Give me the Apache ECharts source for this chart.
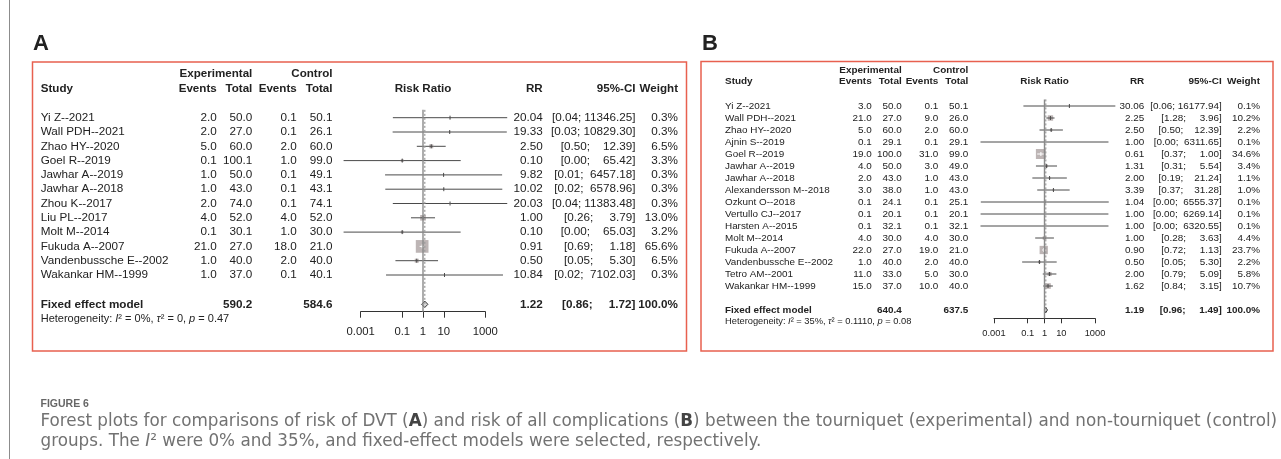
<!DOCTYPE html>
<html>
<head>
<meta charset="utf-8">
<script src="https://cdn.jsdelivr.net/npm/echarts@6/dist/echarts.min.js"></script>
<style>
html, body { margin: 0; padding: 0; background: #fff; }
#main { width: 1281px; height: 459px; }
</style>
</head>
<body>
<div id="main"></div>
<script>
// ---- panel A: risk of DVT ----
var studiesA = ['Yi Z--2021', 'Wall PDH--2021', 'Zhao HY--2020', 'Goel R--2019', 'Jawhar A--2019', 'Jawhar A--2018',
    'Zhou K--2017', 'Liu PL--2017', 'Molt M--2014', 'Fukuda A--2007', 'Vandenbussche E--2002', 'Wakankar HM--1999'];
var expEventsA = [2.0, 2.0, 5.0, 0.1, 1.0, 1.0, 2.0, 4.0, 0.1, 21.0, 1.0, 1.0];
var expTotalA = [50.0, 27.0, 60.0, 100.1, 50.0, 43.0, 74.0, 52.0, 30.1, 27.0, 40.0, 37.0];
var ctlEventsA = [0.1, 0.1, 2.0, 1.0, 0.1, 0.1, 0.1, 4.0, 1.0, 18.0, 2.0, 0.1];
var ctlTotalA = [50.1, 26.1, 60.0, 99.0, 49.1, 43.1, 74.1, 52.0, 30.0, 21.0, 40.0, 40.1];
var rrA = [20.04, 19.33, 2.50, 0.10, 9.82, 10.02, 20.03, 1.00, 0.10, 0.91, 0.50, 10.84];
var loA = [0.0354, 0.0345, 0.504, 0.00015, 0.0149, 0.0153, 0.0352, 0.264, 0.00015, 0.69, 0.047, 0.0166];
var hiA = [11346.25, 10829.30, 12.39, 65.42, 6457.18, 6578.96, 11383.48, 3.79, 65.03, 1.18, 5.30, 7102.03];
var weightA = [0.3, 0.3, 6.5, 3.3, 0.3, 0.3, 0.3, 13.0, 3.2, 65.6, 6.5, 0.3];
// exp total, control total, RR, lower, upper, weight
var fixedA = [590.2, 584.6, 1.22, 0.86, 1.72, 100.0];
// I2, tau2, p
var hetA = ['0%', '0', '0.47'];

// ---- panel B: risk of all complications ----
var studiesB = ['Yi Z--2021', 'Wall PDH--2021', 'Zhao HY--2020', 'Ajnin S--2019', 'Goel R--2019', 'Jawhar A--2019',
    'Jawhar A--2018', 'Alexandersson M--2018', 'Ozkunt O--2018', 'Vertullo CJ--2017', 'Harsten A--2015', 'Molt M--2014',
    'Fukuda A--2007', 'Vandenbussche E--2002', 'Tetro AM--2001', 'Wakankar HM--1999'];
var expEventsB = [3.0, 21.0, 5.0, 0.1, 19.0, 4.0, 2.0, 3.0, 0.1, 0.1, 0.1, 4.0, 22.0, 1.0, 11.0, 15.0];
var expTotalB = [50.0, 27.0, 60.0, 29.1, 100.0, 50.0, 43.0, 38.0, 24.1, 20.1, 32.1, 30.0, 27.0, 40.0, 33.0, 37.0];
var ctlEventsB = [0.1, 9.0, 2.0, 0.1, 31.0, 3.0, 1.0, 1.0, 0.1, 0.1, 0.1, 4.0, 19.0, 2.0, 5.0, 10.0];
var ctlTotalB = [50.1, 26.0, 60.0, 29.1, 99.0, 49.0, 43.0, 43.0, 25.1, 20.1, 32.1, 30.0, 21.0, 40.0, 30.0, 40.0];
var rrB = [30.06, 2.25, 2.50, 1.00, 0.61, 1.31, 2.00, 3.39, 1.04, 1.00, 1.00, 1.00, 0.90, 0.50, 2.00, 1.62];
var loB = [0.0559, 1.28, 0.504, 0.000158, 0.37, 0.31, 0.19, 0.37, 0.000165, 0.00016, 0.000158, 0.28, 0.72, 0.047, 0.79, 0.84];
var hiB = [16177.94, 3.96, 12.39, 6311.65, 1.00, 5.54, 21.24, 31.28, 6555.37, 6269.14, 6320.55, 3.63, 1.13, 5.30, 5.09, 3.15];
var weightB = [0.1, 10.2, 2.2, 0.1, 34.6, 3.4, 1.1, 1.0, 0.1, 0.1, 0.1, 4.4, 23.7, 2.2, 5.8, 10.7];
var fixedB = [640.4, 637.5, 1.19, 0.96, 1.49, 100.0];
var hetB = ['35%', '0.1110', '0.08'];

// axis ticks (shared)
var tickValues = [0.001, 0.1, 1, 10, 1000];
var tickLabels = ['0.001', '0.1', '1', '10', '1000'];

var captionTitle = 'FIGURE 6';
var captionLine1 = 'Forest plots for comparisons of risk of DVT (A) and risk of all complications (B) between the tourniquet (experimental) and non-tourniquet (control)';

var FONT = '"Liberation Sans", Arial, Helvetica, sans-serif';
var TXT = '#222';
var RED = '#e8604f';

var layoutA = {
    font: 11.7, hdr: 11.6, axisFont: 11.3, het: 11.0, rowTop: 117.7, rowStep: 14.3, fixedRow: 13.05,
    axisLeft: 360.7, axisRight: 485.3, axisY: 311.7, tickLen: 6, labelMargin: 15,
    colStudy: 40.7, colExpEv: 216.7, colExpTot: 252.3, colCtlEv: 296.7, colCtlTot: 332.5,
    colRR: 542.7, colCI: 635.5, colW: 678, hdr1: 74, hdr2: 89, hetY: 319, sqK: 1.568, dia: 3.2
};
var layoutB = {
    font: 9.9, hdr: 9.95, axisFont: 9.3, het: 9.3, rowTop: 106, rowStep: 12.0, fixedRow: 17,
    axisLeft: 994, axisRight: 1095, axisY: 318.3, tickLen: 5, labelMargin: 11,
    colStudy: 725, colExpEv: 871.7, colExpTot: 901.7, colCtlEv: 938.3, colCtlTot: 968.3,
    colRR: 1144.3, colCI: 1221.7, colW: 1260, hdr1: 70, hdr2: 81.7, hetY: 321.7, sqK: 1.70, dia: 2.8
};

function pad(s, n) {
    while (s.length < n) { s = ' ' + s; }
    return s;
}
function fmtCI(lo, hi) {
    return '[' + lo.toFixed(2) + '; ' + pad(hi.toFixed(2), 8) + ']';
}
function font(size, bold) {
    return (bold ? 'bold ' : '') + size + 'px ' + FONT;
}
function txt(x, y, s, f, align) {
    return {
        type: 'text', x: x, y: y, z2: 10,
        style: { text: s, font: f, fill: TXT, align: align, verticalAlign: 'middle',
            textAlign: align, textVerticalAlign: 'middle' }
    };
}

var option = {
    animation: false,
    backgroundColor: '#fff',
    grid: [], xAxis: [], yAxis: [], series: [],
    graphic: { elements: [] }
};

function addPanel(k, P, L) {
    var yMax = (L.axisY - L.rowTop) / L.rowStep;
    option.grid.push({
        left: L.axisLeft, width: L.axisRight - L.axisLeft,
        top: L.rowTop - L.rowStep, height: L.axisY - (L.rowTop - L.rowStep)
    });
    option.xAxis.push({
        type: 'log', logBase: 10, gridIndex: k, min: 0.001, max: 1000, position: 'bottom',
        axisLine: { show: true, onZero: false, lineStyle: { color: '#333', width: 1 } },
        axisTick: { show: true, inside: false, length: L.tickLen, customValues: tickValues,
            lineStyle: { color: '#333', width: 1 } },
        axisLabel: {
            customValues: tickValues, margin: L.labelMargin, color: TXT,
            fontSize: L.axisFont, fontFamily: FONT,
            formatter: function (v) {
                for (var j = 0; j < tickValues.length; j++) {
                    if (Math.abs(Math.log10(v) - Math.log10(tickValues[j])) < 1e-6) { return tickLabels[j]; }
                }
                return '';
            }
        },
        splitLine: { show: false }, minorTick: { show: false }
    });
    option.yAxis.push({ type: 'value', gridIndex: k, min: -1, max: yMax, inverse: true, show: false });

    // reference line at RR = 1 and dotted line at the pooled estimate
    option.series.push({
        type: 'line', xAxisIndex: k, yAxisIndex: k, symbol: 'none', silent: true,
        data: [[1, -0.55], [1, yMax]], lineStyle: { color: '#8a8a8a', width: 1.4 }
    });
    option.series.push({
        type: 'line', xAxisIndex: k, yAxisIndex: k, symbol: 'none', silent: true,
        data: [[P.fixed[2], -0.55], [P.fixed[2], L.fixedRow]],
        lineStyle: { color: '#9a9a9a', width: 1.2, type: [2, 2] }
    });

    // study CIs and squares
    var forestData = P.rr.map(function (v, i) { return [v, P.lo[i], P.hi[i], P.w[i], i]; });
    option.series.push({
        type: 'custom', xAxisIndex: k, yAxisIndex: k, clip: false, silent: true,
        dimensions: ['rr', 'lo', 'hi', 'w', 'row'], encode: { x: [0, 1, 2], y: 4 },
        data: forestData,
        renderItem: function (params, api) {
            var row = api.value(4);
            var p = api.coord([api.value(0), row]);
            var a = api.coord([api.value(1), row]);
            var b = api.coord([api.value(2), row]);
            var s = L.sqK * Math.sqrt(api.value(3));
            var inner = s >= 6 ? '#fff' : '#4a4a4a';
            var x1 = Math.max(a[0], p[0] - s / 2), x2 = Math.min(b[0], p[0] + s / 2);
            return {
                type: 'group', children: [
                    { type: 'line', shape: { x1: a[0], y1: p[1], x2: b[0], y2: p[1] },
                        style: { stroke: '#4a4a4a', lineWidth: 1 } },
                    { type: 'rect', shape: { x: p[0] - s / 2, y: p[1] - s / 2, width: s, height: s },
                        style: { fill: '#bdb5b5' } },
                    { type: 'line', shape: { x1: x1, y1: p[1], x2: x2, y2: p[1] },
                        style: { stroke: inner, lineWidth: 1 } },
                    { type: 'line', shape: { x1: p[0], y1: p[1] - 2, x2: p[0], y2: p[1] + 2 },
                        style: { stroke: inner, lineWidth: 1 } }
                ]
            };
        }
    });

    // pooled diamond
    option.series.push({
        type: 'custom', xAxisIndex: k, yAxisIndex: k, clip: false, silent: true,
        data: [[P.fixed[2], P.fixed[3], P.fixed[4], L.fixedRow]],
        renderItem: function (params, api) {
            var row = api.value(3);
            var c = api.coord([api.value(0), row]);
            var a = api.coord([api.value(1), row]);
            var b = api.coord([api.value(2), row]);
            return {
                type: 'polygon',
                shape: { points: [[a[0], c[1]], [c[0], c[1] - L.dia], [b[0], c[1]], [c[0], c[1] + L.dia]] },
                style: { fill: '#d6d6d6', stroke: '#333', lineWidth: 1 }
            };
        }
    });

    // table text for each row, y placed through the axis
    var tableData = P.studies.map(function (s, i) { return [1, i, i]; });
    tableData.push([1, L.fixedRow, -1]);
    option.series.push({
        type: 'custom', xAxisIndex: k, yAxisIndex: k, clip: false, silent: true,
        data: tableData,
        renderItem: function (params, api) {
            var i = api.value(2);
            var y = api.coord([1, api.value(1)])[1];
            var f;
            if (i < 0) {
                f = font(L.font, true);
                return {
                    type: 'group', children: [
                        txt(L.colStudy, y, 'Fixed effect model', f, 'left'),
                        txt(L.colExpTot, y, P.fixed[0].toFixed(1), f, 'right'),
                        txt(L.colCtlTot, y, P.fixed[1].toFixed(1), f, 'right'),
                        txt(L.colRR, y, P.fixed[2].toFixed(2), f, 'right'),
                        txt(L.colCI, y, fmtCI(P.fixed[3], P.fixed[4]), f, 'right'),
                        txt(L.colW, y, P.fixed[5].toFixed(1) + '%', f, 'right')
                    ]
                };
            }
            f = font(L.font, false);
            return {
                type: 'group', children: [
                    txt(L.colStudy, y, P.studies[i], f, 'left'),
                    txt(L.colExpEv, y, P.expEv[i].toFixed(1), f, 'right'),
                    txt(L.colExpTot, y, P.expTot[i].toFixed(1), f, 'right'),
                    txt(L.colCtlEv, y, P.ctlEv[i].toFixed(1), f, 'right'),
                    txt(L.colCtlTot, y, P.ctlTot[i].toFixed(1), f, 'right'),
                    txt(L.colRR, y, P.rr[i].toFixed(2), f, 'right'),
                    txt(L.colCI, y, fmtCI(P.lo[i], P.hi[i]), f, 'right'),
                    txt(L.colW, y, P.w[i].toFixed(1) + '%', f, 'right')
                ]
            };
        }
    });

    // column headers
    var hb = font(L.hdr, true);
    var g = option.graphic.elements;
    g.push(txt(L.colExpTot, L.hdr1, 'Experimental', hb, 'right'));
    g.push(txt(L.colCtlTot, L.hdr1, 'Control', hb, 'right'));
    g.push(txt(L.colStudy, L.hdr2, 'Study', hb, 'left'));
    g.push(txt(L.colExpEv, L.hdr2, 'Events', hb, 'right'));
    g.push(txt(L.colExpTot, L.hdr2, 'Total', hb, 'right'));
    g.push(txt(L.colCtlEv, L.hdr2, 'Events', hb, 'right'));
    g.push(txt(L.colCtlTot, L.hdr2, 'Total', hb, 'right'));
    g.push(txt((L.axisLeft + L.axisRight) / 2, L.hdr2, 'Risk Ratio', hb, 'center'));
    g.push(txt(L.colRR, L.hdr2, 'RR', hb, 'right'));
    g.push(txt(L.colCI, L.hdr2, '95%-CI', hb, 'right'));
    g.push(txt(L.colW, L.hdr2, 'Weight', hb, 'right'));

    // heterogeneity line
    var rs = { fontSize: L.het, fontFamily: FONT, fill: TXT };
    var ri = { fontSize: L.het, fontFamily: FONT, fill: TXT, fontStyle: 'italic' };
    g.push({
        type: 'text', x: L.colStudy, y: L.hetY, z: 10,
        style: {
            text: '{n|Heterogeneity: }{i|I}{n|\u00b2 = ' + P.het[0] + ', }{i|\u03c4}{n|\u00b2 = ' + P.het[1] +
                ', }{i|p}{n| = ' + P.het[2] + '}',
            rich: { n: rs, i: ri }, verticalAlign: 'middle', textVerticalAlign: 'middle'
        }
    });
}

addPanel(0, {
    studies: studiesA, expEv: expEventsA, expTot: expTotalA, ctlEv: ctlEventsA, ctlTot: ctlTotalA,
    rr: rrA, lo: loA, hi: hiA, w: weightA, fixed: fixedA, het: hetA
}, layoutA);
addPanel(1, {
    studies: studiesB, expEv: expEventsB, expTot: expTotalB, ctlEv: ctlEventsB, ctlTot: ctlTotalB,
    rr: rrB, lo: loB, hi: hiB, w: weightB, fixed: fixedB, het: hetB
}, layoutB);

// frames, panel letters, page rule and caption
var g = option.graphic.elements;
g.push({ type: 'line', shape: { x1: 9.5, y1: 0, x2: 9.5, y2: 459 }, style: { stroke: '#8c8c8c', lineWidth: 1 } });
g.push({ type: 'rect', shape: { x: 32.5, y: 62, width: 654, height: 289 }, style: { fill: null, stroke: RED, lineWidth: 1.5 } });
g.push({ type: 'rect', shape: { x: 701, y: 61.5, width: 572, height: 289.5 }, style: { fill: null, stroke: RED, lineWidth: 1.5 } });
g.push(txt(33, 43.5, 'A', font(22, true), 'left'));
g.push(txt(702, 43.5, 'B', font(22, true), 'left'));
g.push({
    type: 'text', x: 40.5, y: 404,
    style: { text: captionTitle, font: '600 10.5px "Liberation Sans", sans-serif',
        fill: '#666', verticalAlign: 'middle', textVerticalAlign: 'middle' }
});

// caption: size chosen so the first line spans the text block width
var CAP_FAMILY = '"DejaVu Sans", Verdana, sans-serif';
var ctx = document.createElement('canvas').getContext('2d');
ctx.font = '16px ' + CAP_FAMILY;
var capSize = Math.min(17, 16 * (1275 - 40.5) / ctx.measureText(captionLine1).width);
var cn = { fontSize: capSize, fontFamily: CAP_FAMILY, fill: '#727272' };
var cb = { fontSize: capSize, fontFamily: CAP_FAMILY, fontWeight: 'bold', fill: '#444' };
var ci = { fontSize: capSize, fontFamily: CAP_FAMILY, fontStyle: 'italic', fill: '#727272' };
g.push({
    type: 'text', x: 40.5, y: 422,
    style: {
        text: captionLine1.replace('(A)', '({b|A}{n|)').replace('(B)', '({b|B}{n|)')
            .replace(/^/, '{n|').replace(/$/, '}').replace(/\(\{b/g, '(}{b'),
        rich: { n: cn, b: cb }, verticalAlign: 'middle', textVerticalAlign: 'middle'
    }
});
g.push({
    type: 'text', x: 40.5, y: 442,
    style: {
        text: '{n|groups. The }{i|I}{n|\u00b2 were 0% and 35%, and fixed-effect models were selected, respectively.}',
        rich: { n: cn, i: ci }, verticalAlign: 'middle', textVerticalAlign: 'middle'
    }
});

var myChart = echarts.init(document.getElementById('main'), null, { renderer: 'canvas' });
myChart.setOption(option);
</script>
</body>
</html>
